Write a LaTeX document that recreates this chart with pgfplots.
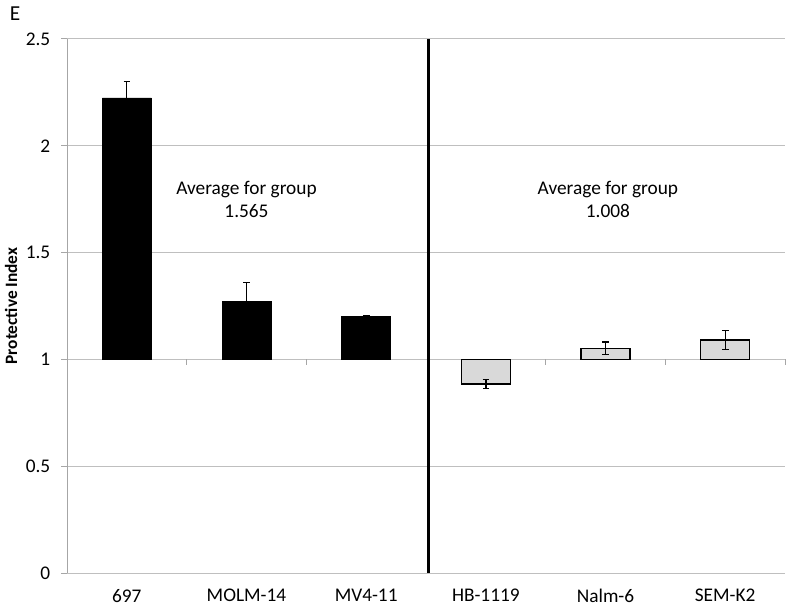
\documentclass[border=0pt]{standalone}
\usepackage{pgfplots}
\pgfplotsset{compat=1.18}
\usepackage{fontspec}
\setmainfont{Carlito}
\begin{document}
\begin{tikzpicture}
\begin{axis}[
  scale only axis,
  width=538.5pt, height=400.5pt,
  xmin=-0.5, xmax=5.5,
  ymin=0, ymax=2.5,
  y coord trafo/.code={\pgfmathparse{#1-1}},
  y coord inv trafo/.code={\pgfmathparse{#1+1}},
  ytick={0,0.5,1,1.5,2,2.5},
  yticklabels={0,0.5,1,1.5,2,2.5},
  xtick={0,1,2,3,4,5},
  xticklabels={697,MOLM-14,MV4-11,HB-1119,Nalm-6,SEM-K2},
  axis lines*=left,
  x axis line style={draw=none},
  y axis line style={draw=gray!70, line width=0.75pt},
  xtick style={draw=none},
  ytick style={draw=gray!70, line width=0.75pt},
  tick align=outside,
  major tick length=4.5pt,
  ymajorgrids,
  grid style={gray!50, line width=0.75pt},
  tick label style={font=\fontsize{14.5}{17}\selectfont},
  yticklabel style={xshift=-4.5pt},
  xticklabel style={yshift=-4pt},
  /pgf/number format/assume math mode=true,
  ybar, bar width=36.75pt,
  clip=false,
]
% ticks on the y=1 category line
\draw[gray!70, line width=0.75pt] (axis cs:0.5,1) -- ([yshift=-4pt]axis cs:0.5,1);
\draw[gray!70, line width=0.75pt] (axis cs:1.5,1) -- ([yshift=-4pt]axis cs:1.5,1);
\draw[gray!70, line width=0.75pt] (axis cs:3.5,1) -- ([yshift=-4pt]axis cs:3.5,1);
\draw[gray!70, line width=0.75pt] (axis cs:4.5,1) -- ([yshift=-4pt]axis cs:4.5,1);
\draw[gray!70, line width=0.75pt] (axis cs:5.5,1) -- ([yshift=-4pt]axis cs:5.5,1);

\addplot[fill=black, draw=black, bar shift=0pt,
  error bars/.cd, y dir=both, y explicit,
  error bar style={black, line width=0.75pt},
  error mark options={black, rotate=90, mark size=2.5pt, line width=0.75pt}]
  coordinates {(0,2.224) +- (0,0.075) (1,1.270) +- (0,0.092) (2,1.200) +- (0,0.004)};

\addplot[fill=black!15, draw=black, line width=1pt, bar shift=0pt,
  error bars/.cd, y dir=both, y explicit,
  error bar style={black, line width=1pt},
  error mark options={black, rotate=90, mark size=2.5pt, line width=1pt}]
  coordinates {(3,0.885) +- (0,0.02) (4,1.052) +- (0,0.03) (5,1.091) +- (0,0.045)};

\draw[black, line width=2.25pt] (axis cs:2.52,0) -- (axis cs:2.52,2.5);

\node[align=center, font=\fontsize{14.5}{17.25}\selectfont] at (axis cs:1,1.751) {Average for group\\1.565};
\node[align=center, font=\fontsize{14.5}{17.25}\selectfont] at (axis cs:4.02,1.751) {Average for group\\1.008};
\end{axis}
\node[font=\fontsize{16}{18}\selectfont] at ([shift={(-39pt,18.75pt)}]current axis.north west) {E};
\node[rotate=90, font=\fontsize{13}{15}\selectfont\bfseries] at ([xshift=-42pt]current axis.west) {Protective Index};
\path ([shift={(-50.25pt,-27.75pt)}]current axis.south west) rectangle ([shift={(11.25pt,29.25pt)}]current axis.north east);
\end{tikzpicture}
\end{document}
